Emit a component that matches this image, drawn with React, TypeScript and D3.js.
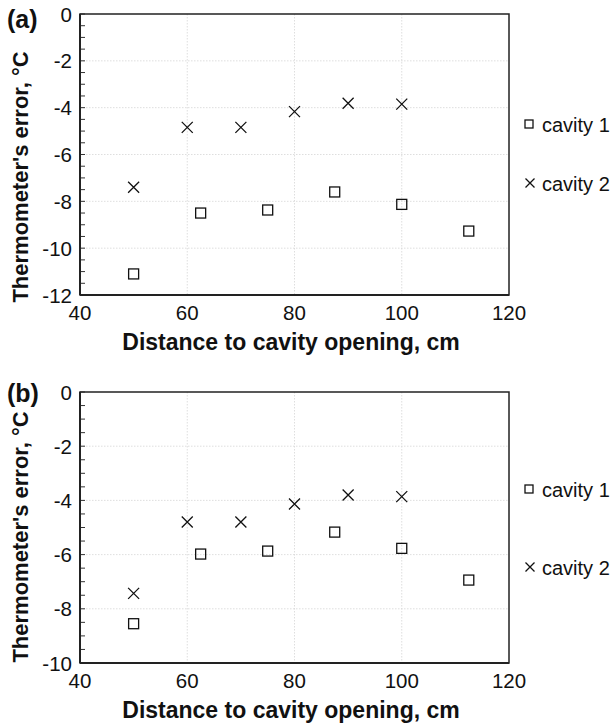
import React, { useRef, useEffect } from 'react';
import * as d3 from 'd3';

// ── Data ──────────────────────────────────────────────────────────────────────
const cavity1X = [50, 62.5, 75, 87.5, 100, 112.5];
const cavity1A = [-11.1, -8.5, -8.37, -7.6, -8.13, -9.27];
const cavity1B = [-8.55, -5.98, -5.87, -5.17, -5.77, -6.94];

const cavity2X = [50, 60, 70, 80, 90, 100];
const cavity2A = [-7.4, -4.84, -4.84, -4.17, -3.81, -3.85];
const cavity2B = [-7.43, -4.8, -4.8, -4.13, -3.8, -3.86];

const xTicks = [40, 60, 80, 100, 120];
const yTicksA = [0, -2, -4, -6, -8, -10, -12];
const yTicksB = [0, -2, -4, -6, -8, -10];
const seriesNames = ['cavity 1', 'cavity 2'];

const FONT = '"Liberation Sans", Arial, Helvetica, sans-serif';

interface PanelProps {
  tag: string;
  tagY: number;
  top: number;
  bottom: number;
  yMin: number;
  yTicks: number[];
  c1: number[];
  c2: number[];
  legendY: [number, number];
  labelY: number;
}

// ── Panel ─────────────────────────────────────────────────────────────────────
const Panel: React.FC<PanelProps> = ({ tag, tagY, top, bottom, yMin, yTicks, c1, c2, legendY, labelY }) => {
  const ref = useRef<SVGGElement>(null);

  useEffect(() => {
    if (!ref.current) return;
    const g = d3.select(ref.current);
    g.selectAll('*').remove();

    const left = 80, right = 509;
    const x = d3.scaleLinear().domain([40, 120]).range([left, right]);
    const y = d3.scaleLinear().domain([yMin, 0]).range([bottom, top]);

    // gridlines
    xTicks.slice(1, -1).forEach(t => {
      g.append('line').attr('x1', x(t)).attr('x2', x(t)).attr('y1', top).attr('y2', bottom)
        .attr('stroke', '#d6d6d6').attr('stroke-width', 0.8).attr('stroke-dasharray', '1.5,1.5');
    });
    yTicks.slice(1, -1).forEach(t => {
      g.append('line').attr('x1', left).attr('x2', right).attr('y1', y(t)).attr('y2', y(t))
        .attr('stroke', '#d6d6d6').attr('stroke-width', 0.8).attr('stroke-dasharray', '1.5,1.5');
    });

    // minor ticks (every 0.5) on y axis, pointing inward
    d3.range(yMin, 0.001, 0.5).forEach(t => {
      g.append('line').attr('x1', left).attr('x2', left + 5).attr('y1', y(t)).attr('y2', y(t))
        .attr('stroke', '#333').attr('stroke-width', 1);
    });

    // frame
    g.append('rect').attr('x', left).attr('y', top).attr('width', right - left).attr('height', bottom - top)
      .attr('fill', 'none').attr('stroke', '#222').attr('stroke-width', 1.5);
    g.append('line').attr('x1', left).attr('x2', left).attr('y1', top).attr('y2', bottom)
      .attr('stroke', '#222').attr('stroke-width', 2);
    g.append('line').attr('x1', left).attr('x2', right).attr('y1', bottom).attr('y2', bottom)
      .attr('stroke', '#222').attr('stroke-width', 2);

    // tick labels
    yTicks.forEach(t => {
      g.append('text').attr('x', 72).attr('y', y(t) + 7.5).attr('text-anchor', 'end')
        .attr('font-family', FONT).attr('font-size', 20.5).attr('fill', '#111').text(String(t));
    });
    xTicks.forEach(t => {
      g.append('text').attr('x', x(t)).attr('y', bottom + 25).attr('text-anchor', 'middle')
        .attr('font-family', FONT).attr('font-size', 20.5).attr('fill', '#111').text(String(t));
    });

    // axis titles
    g.append('text').attr('x', 291).attr('y', bottom + 55).attr('text-anchor', 'middle')
      .attr('font-family', FONT).attr('font-size', 23).attr('font-weight', 'bold').attr('fill', '#111')
      .text('Distance to cavity opening, cm');
    g.append('text').attr('transform', `translate(28,${labelY}) rotate(-90)`).attr('text-anchor', 'middle')
      .attr('font-family', FONT).attr('font-size', 22).attr('font-weight', 'bold').attr('fill', '#111')
      .text("Thermometer's error, \u00B0C");
    g.append('text').attr('x', 7).attr('y', tagY).attr('font-family', FONT).attr('font-size', 25)
      .attr('font-weight', 'bold').attr('fill', '#111').text(tag);

    // markers
    const sq = (cx: number, cy: number, s: number) =>
      g.append('rect').attr('x', cx - s / 2).attr('y', cy - s / 2).attr('width', s).attr('height', s)
        .attr('fill', 'none').attr('stroke', '#111').attr('stroke-width', 1.3);
    const cross = (cx: number, cy: number, s: number) =>
      g.append('path').attr('d', `M${cx - s / 2},${cy - s / 2}L${cx + s / 2},${cy + s / 2}M${cx - s / 2},${cy + s / 2}L${cx + s / 2},${cy - s / 2}`)
        .attr('stroke', '#111').attr('stroke-width', 1.3).attr('fill', 'none');

    cavity1X.forEach((d, i) => sq(x(d), y(c1[i]), 10));
    cavity2X.forEach((d, i) => cross(x(d), y(c2[i]), 11));

    // legend
    sq(529, legendY[0], 8);
    cross(530, legendY[1], 9);
    seriesNames.forEach((n, i) => {
      g.append('text').attr('x', 542).attr('y', legendY[i] + 7.5).attr('font-family', FONT).attr('font-size', 20)
        .attr('fill', '#111').text(n);
    });
  }, [tag, tagY, top, bottom, yMin, yTicks, c1, c2, legendY, labelY]);

  return <g ref={ref} />;
};

export default function App() {
  return (
    <svg width={613} height={724} style={{ position: 'absolute', left: 0, top: 0, background: '#fff' }}>
      <Panel tag="(a)" tagY={28} top={14} bottom={295} yMin={-12} yTicks={yTicksA} c1={cavity1A} c2={cavity2A}
        legendY={[124, 183]} labelY={177} />
      <Panel tag="(b)" tagY={402} top={392} bottom={663} yMin={-10} yTicks={yTicksB} c1={cavity1B} c2={cavity2B}
        legendY={[489, 567]} labelY={537} />
    </svg>
  );
}
